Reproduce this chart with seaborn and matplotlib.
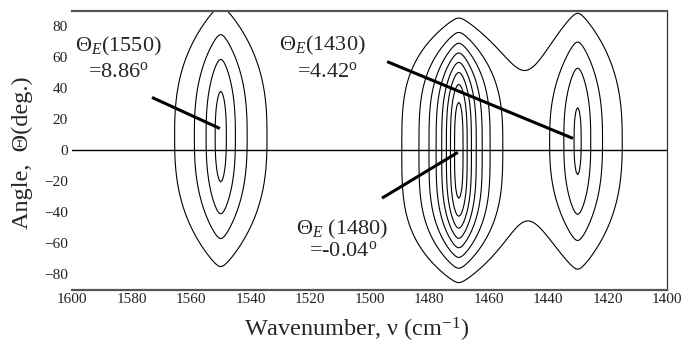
import numpy as np
import matplotlib
matplotlib.use("Agg")
import matplotlib.pyplot as plt
import seaborn as sns

# ---- data ----
peak_wavenumber = [1550.0, 1470.0, 1430.0]     # cm-1
peak_angle = [8.86, -0.04, 6.0]                 # deg
peak_height = [4.4, 8.5, 4.1]
peak_nu_width = [9.5, 8.2, 9.5]
peak_nu_core = [1.5, 1.5, 1.5]
peak_theta_width = [72.0, 68.0, 72.0]
peak_theta_shape = [2.6, 3.4, 2.6]
contour_levels = [1, 2, 3, 4, 5, 6, 7, 8]

x_ticks = [1600, 1580, 1560, 1540, 1520, 1500, 1480, 1460, 1440, 1420, 1400]
y_ticks = [-80, -60, -40, -20, 0, 20, 40, 60, 80]

label_names = ["1550", "1430", "1480"]
label_values = ["8.86", "4.42", "-0.04"]

# ---- style ----
sns.set_theme(style="white")
plt.rcParams["font.family"] = ["Liberation Serif", "DejaVu Serif"]
plt.rcParams["mathtext.fontset"] = "custom"
plt.rcParams["mathtext.rm"] = "Liberation Serif"
plt.rcParams["mathtext.it"] = "Liberation Serif:italic"
plt.rcParams["mathtext.bf"] = "Liberation Serif:bold"

fig = plt.figure(figsize=(6.85, 3.51), dpi=100)
ax = fig.add_axes([72 / 685, 1 - 290 / 351, (667 - 72) / 685, (290 - 10.7) / 351])

# ---- intensity surface from the peak parameters ----
nu = np.arange(1400.0, 1600.01, 0.5)
theta = np.arange(-90.0, 90.01, 2.0)
NU, TH = np.meshgrid(nu, theta)
Z = np.zeros_like(NU)
for n0, t0, a, w, e, s, p in zip(peak_wavenumber, peak_angle, peak_height,
                                 peak_nu_width, peak_nu_core,
                                 peak_theta_width, peak_theta_shape):
    d = np.sqrt((NU - n0) ** 2 + e ** 2) - e
    gnu = np.exp(-d / w)
    fth = np.exp(-(np.abs(TH - t0) / s) ** p)
    Z += a * gnu * fth

ax.contour(NU, TH, Z, levels=contour_levels, colors="black", linewidths=0.8)

# zero line
sns.lineplot(x=[x_ticks[0], x_ticks[-1]], y=[0, 0], color="black", linewidth=1.0, ax=ax)

ax.set_xlim(1600, 1400)
ax.set_ylim(-90, 90)
ax.set_xticks(x_ticks)
ax.set_yticks(y_ticks)
ax.tick_params(axis="both", length=0, labelsize=11, labelcolor="#222222")
ax.tick_params(axis="x", pad=2)
ax.tick_params(axis="y", pad=3)

for side in ["top", "bottom"]:
    ax.spines[side].set_color("#555555")
    ax.spines[side].set_linewidth(1.6)
ax.spines["right"].set_color("#333333")
ax.spines["right"].set_linewidth(0.9)
ax.spines["left"].set_visible(False)

ax.set_xlabel("Wavenumber, ν (cm$^{-1}$)", fontsize=17.5)
ax.set_ylabel("Angle,  Θ(deg.)", fontsize=17.5)
ax.xaxis.set_label_coords(0.479, -0.093)
ax.yaxis.set_label_coords(-0.066, 0.49)

# ---- annotations ----
fs = 16
text_pos = [((1584.5, 66.8), (1584.5, 50.8)),
            ((1516.0, 67.5), (1514.3, 50.8)),
            ((1509.2, -50.8), (1508.8, -64.8))]
line_pos = [((1573.1, 34.1), (1550.3, 14.1)),
            ((1494.1, 57.2), (1431.6, 7.7)),
            ((1495.8, -30.8), (1470.3, -1.3))]
for i, (name, val) in enumerate(zip(label_names, label_values)):
    (p1, p2) = text_pos[i]
    sep = " " if name == "1480" else ""
    ax.text(p1[0], p1[1], "Θ$_{E}$" + sep + "(" + name + ")", ha="center", va="center",
            fontsize=fs)
    ax.text(p2[0], p2[1], "=" + val + "$^{\\rm o}$", ha="center", va="center", fontsize=fs)
    (a, b) = line_pos[i]
    ax.plot([a[0], b[0]], [a[1], b[1]], color="black", linewidth=2.2, solid_capstyle="butt")

fig.savefig("out.png", dpi=100)
